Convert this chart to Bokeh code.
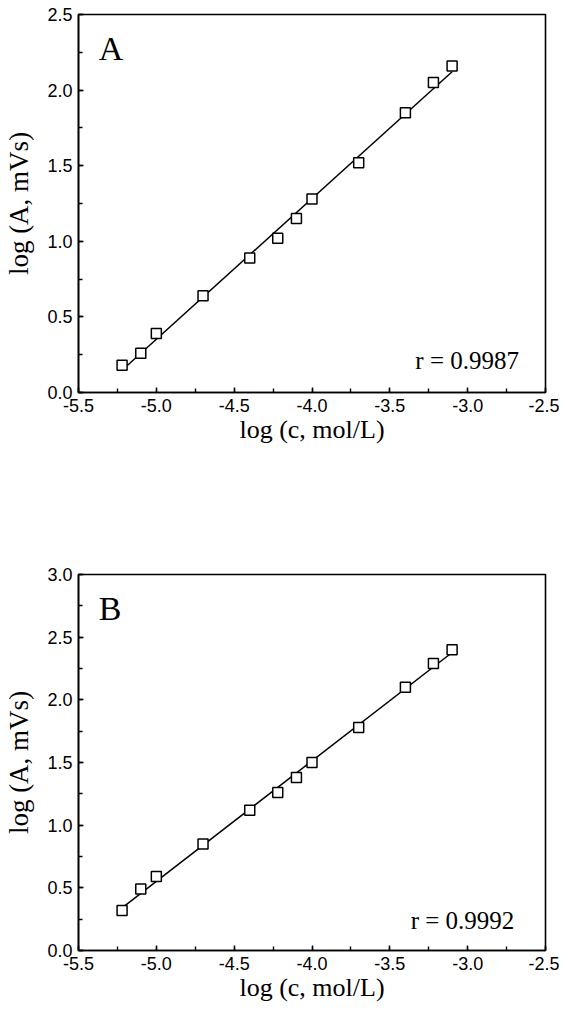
import numpy as np
from bokeh.plotting import figure
from bokeh.models import Label, SingleIntervalTicker, NumeralTickFormatter, Range1d
from bokeh.layouts import column
from bokeh.embed import file_html
from bokeh.resources import INLINE

# ---- data ----
log_c = [-5.22, -5.10, -5.00, -4.70, -4.40, -4.22, -4.10, -4.00, -3.70, -3.40, -3.22, -3.10]
log_A_panelA = [0.18, 0.26, 0.39, 0.64, 0.89, 1.02, 1.15, 1.28, 1.52, 1.85, 2.05, 2.16]
log_A_panelB = [0.32, 0.49, 0.59, 0.85, 1.12, 1.26, 1.38, 1.50, 1.78, 2.10, 2.29, 2.40]
r_values = ["r = 0.9987", "r = 0.9992"]
panel_letters = ["A", "B"]
x_limits = [-5.5, -2.5]
y_limits_A = [0.0, 2.5]
y_limits_B = [0.0, 3.0]
x_title = "log (c, mol/L)"
y_title = "log (A, mVs)"

SERIF = "Liberation Serif"
SANS = "Liberation Sans"


def make_panel(yvals, ylim, letter, rtext, height, bl, br, bt, bb, letter_pos, r_pos):
    p = figure(width=559, height=height, output_backend="svg", toolbar_location=None,
               x_range=Range1d(*x_limits), y_range=Range1d(*ylim),
               min_border_left=bl, min_border_right=br, min_border_top=bt, min_border_bottom=bb)
    p.grid.visible = False
    p.outline_line_color = "black"
    p.outline_line_width = 1.6
    p.background_fill_color = "white"
    p.border_fill_color = "white"

    for ax in (p.xaxis[0], p.yaxis[0]):
        ax.ticker = SingleIntervalTicker(interval=0.5, num_minor_ticks=2)
        ax.formatter = NumeralTickFormatter(format="0.0")
        ax.major_tick_in = 5
        ax.major_tick_out = 0
        ax.minor_tick_in = 4
        ax.minor_tick_out = 0
        ax.axis_line_width = 1.6
        ax.axis_line_color = "black"
        ax.major_tick_line_color = "black"
        ax.minor_tick_line_color = "black"
        ax.major_tick_line_width = 1.4
        ax.minor_tick_line_width = 1.4
        ax.major_label_text_font = SANS
        ax.major_label_text_font_size = "18px"
        ax.major_label_text_color = "black"
        ax.axis_label_text_font = SERIF
        ax.axis_label_text_font_style = "normal"
        ax.axis_label_text_color = "black"

    p.xaxis.axis_label = x_title
    p.yaxis.axis_label = y_title
    p.xaxis.axis_label_text_font_size = "26px"
    p.yaxis.axis_label_text_font_size = "27px"
    p.xaxis.major_label_standoff = 6
    p.xaxis.axis_label_standoff = 0
    p.yaxis.major_label_standoff = 6
    p.yaxis.axis_label_standoff = 10

    # regression line from the data
    xs = np.array(log_c)
    ys = np.array(yvals)
    k, b = np.polyfit(xs, ys, 1)
    fx = np.array([xs.min(), xs.max()])
    p.line(fx, k * fx + b, line_color="black", line_width=1.5)

    p.scatter(log_c, yvals, marker="square", size=10, fill_color="white",
              line_color="black", line_width=1.5)

    p.add_layout(Label(x=letter_pos[0], y=letter_pos[1], text=letter,
                       text_font=SERIF, text_font_size="34px", text_color="black",
                       text_baseline="top", text_align="left"))
    p.add_layout(Label(x=r_pos[0], y=r_pos[1], text=rtext,
                       text_font=SERIF, text_font_size="25px", text_color="black",
                       text_baseline="alphabetic", text_align="right"))
    return p


pA = make_panel(log_A_panelA, y_limits_A, panel_letters[0], r_values[0],
                height=470, bl=78, br=14, bt=14, bb=78,
                letter_pos=(-5.37, 2.40), r_pos=(-2.67, 0.21))
pB = make_panel(log_A_panelB, y_limits_B, panel_letters[1], r_values[1],
                height=535, bl=75, br=12, bt=104, bb=55,
                letter_pos=(-5.37, 2.88), r_pos=(-2.70, 0.24))

layout = column(pA, pB, spacing=0)
open("out.html", "w").write(file_html(layout, INLINE))
